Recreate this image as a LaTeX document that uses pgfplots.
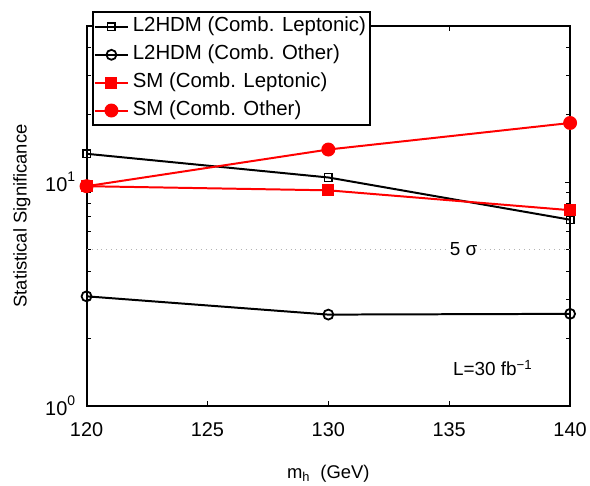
\documentclass[border=0pt]{standalone}
\usepackage{fontspec}
\setmainfont{Liberation Sans}
\usepackage{pgfplots}
\pgfplotsset{compat=1.18}
\definecolor{mred}{rgb}{1,0,0}
\newcommand{\sups}[1]{\raisebox{0.5em}{\fontsize{14}{14}\selectfont #1}}
\pgfplotsset{
    mleg/.style={legend image code/.code={
        \draw[mark repeat=2, mark phase=2, ##1] plot coordinates {(0pt,0pt) (17pt,0pt) (34pt,0pt)};
    }},
}
\begin{document}
\begin{tikzpicture}
\begin{axis}[
    scale only axis,
    width=486pt, height=382pt,
    ymode=log,
    xmin=120, xmax=140,
    ymin=1, ymax=50,
    xtick={120,125,130,135,140},
    ytick={1,10},
    yticklabels={10\sups{0},10\sups{1}},
    minor ytick={2,3,4,5,6,7,8,9,20,30,40},
    /pgf/number format/assume math mode=true,
    ticklabel style={font=\fontsize{20}{23}\selectfont},
    xticklabel style={yshift=-13pt},
    yticklabel style={xshift=-8pt},
    tick align=inside,
    major tick length=5pt,
    minor tick length=4pt,
    every tick/.style={black, line width=1pt},
    axis line style={line width=2pt},
    xlabel={m\textsubscript{h}\ \ (GeV)},
    ylabel={Statistical Significance},
    label style={font=\fontsize{18.5}{21}\selectfont},
    xlabel style={yshift=-22pt},
    ylabel style={yshift=8pt},
    clip=false,
    legend cell align=left,
    legend style={
        at={(0.0103,1.039)}, anchor=north west,
        font=\fontsize{20.5}{24}\selectfont,
        draw=black, line width=2pt,
        inner sep=1pt,
        nodes={text height=15pt, text depth=5pt, inner ysep=4pt, inner xsep=3.5pt},
    },
]
% 5 sigma reference line
\addplot[gray!60, line width=1pt, dash pattern=on 1pt off 4pt, forget plot]
    coordinates {(120,5) (140,5)};

\addplot[mleg, black, line width=2pt, mark=square, mark size=3.8pt, mark options={solid, line width=1.5pt}]
    coordinates {(120,13.4) (130,10.5) (140,6.8)};
\addlegendentry{L2HDM (Comb. Leptonic)}
\addplot[mleg, black, line width=2pt, mark=o, mark size=5pt, mark options={solid, line width=1.8pt}]
    coordinates {(120,3.09) (130,2.56) (140,2.58)};
\addlegendentry{L2HDM (Comb. Other)}
\addplot[mleg, mred, line width=2pt, mark=square*, mark size=5pt, mark options={solid, fill=mred}]
    coordinates {(120,9.6) (130,9.2) (140,7.5)};
\addlegendentry{SM (Comb. Leptonic)}
\addplot[mleg, mred, line width=2pt, mark=*, mark size=6pt, mark options={solid, fill=mred}]
    coordinates {(120,9.6) (130,14.0) (140,18.4)};
\addlegendentry{SM (Comb. Other)}

\node[fill=white, inner sep=1pt, font=\fontsize{19}{21}\selectfont] at (axis cs:135.6,5) {5 σ};
\node[font=\fontsize{19}{21}\selectfont] at (axis cs:136.8,1.475) {L=30 fb\textsuperscript{−1}};
\coordinate (o) at (rel axis cs:0,0);
\end{axis}
\path (o) ++(-87pt,-77pt) rectangle ++(590pt,485pt);
\end{tikzpicture}
\end{document}
